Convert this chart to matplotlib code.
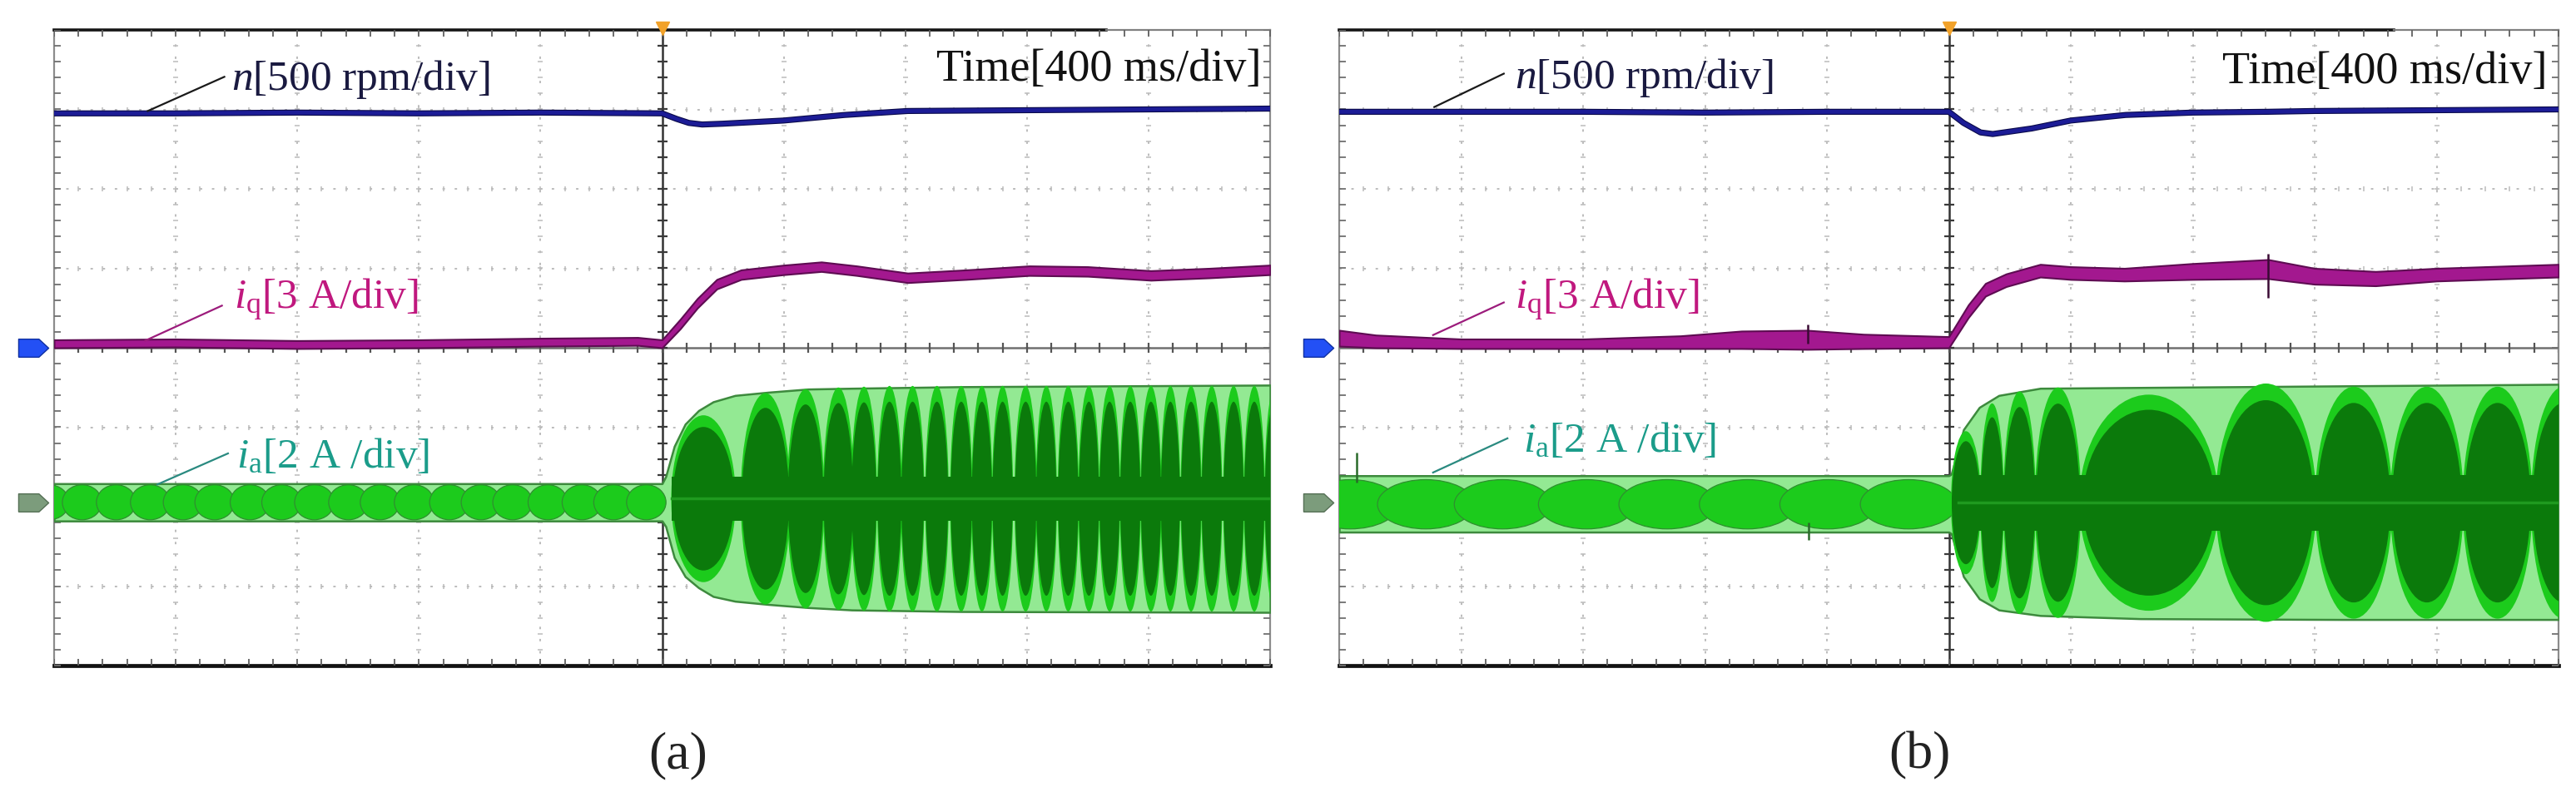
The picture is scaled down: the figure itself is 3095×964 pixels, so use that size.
import numpy as np
import matplotlib
matplotlib.use("Agg")
import matplotlib.pyplot as plt
import matplotlib.patheffects as pe
from matplotlib.patches import Ellipse
from matplotlib.path import Path

plt.rcParams['font.family'] = ['Liberation Serif', 'DejaVu Serif']
plt.rcParams['mathtext.fontset'] = 'custom'
plt.rcParams['mathtext.rm'] = 'Liberation Serif'
plt.rcParams['mathtext.it'] = 'Liberation Serif:italic'

# all values in scope divisions: x 0..10 (400 ms/div), y -4..4

# speed n
n_a_x = [0, 1, 2, 3, 4, 5.0, 5.12, 5.22, 5.33, 5.5, 6.0, 6.5, 7.02, 8.0, 9.0, 10.0]
n_a_y = [2.95, 2.95, 2.96, 2.95, 2.96, 2.95, 2.88, 2.83, 2.81, 2.82, 2.86, 2.93, 2.98, 2.99, 3.0, 3.01]
n_b_x = [0, 1, 2, 3, 4, 5.0, 5.12, 5.26, 5.36, 5.68, 6.0, 6.45, 7.0, 7.62, 8.0, 9.0, 10.0]
n_b_y = [2.97, 2.97, 2.97, 2.96, 2.97, 2.97, 2.83, 2.71, 2.69, 2.76, 2.86, 2.93, 2.96, 2.97, 2.98, 2.99, 3.0]

# q-axis current iq (centre and half thickness of the trace)
iq_a_x = [0, 1, 2, 3, 4, 4.8, 5.0, 5.15, 5.29, 5.45, 5.65, 6.0, 6.31, 6.6, 7.02, 7.5, 8.02, 8.5, 9.02, 9.5, 10]
iq_a_y = [0.05, 0.06, 0.04, 0.05, 0.07, 0.08, 0.05, 0.3, 0.56, 0.8, 0.92, 0.98, 1.02, 0.97, 0.88, 0.92, 0.97, 0.96, 0.91, 0.94, 0.98]
iq_a_hw = [0.05, 0.05, 0.05, 0.05, 0.05, 0.05, 0.05, 0.06, 0.06, 0.06, 0.06, 0.06, 0.06, 0.06, 0.06, 0.06, 0.06, 0.06, 0.06, 0.06, 0.06]
iq_b_x = [0, 0.3, 1, 2, 2.8, 3.3, 3.84, 4.3, 5.0, 5.16, 5.3, 5.47, 5.75, 6.0, 6.44, 7.0, 7.62, 8.0, 8.5, 9.0, 10]
iq_b_y = [0.12, 0.08, 0.05, 0.05, 0.07, 0.1, 0.1, 0.08, 0.07, 0.46, 0.73, 0.85, 0.97, 0.94, 0.92, 0.96, 0.99, 0.9, 0.87, 0.92, 0.97]
iq_b_hw = [0.1, 0.08, 0.06, 0.06, 0.08, 0.11, 0.12, 0.09, 0.07, 0.08, 0.08, 0.08, 0.08, 0.08, 0.08, 0.1, 0.12, 0.1, 0.09, 0.08, 0.08]
iq_b_spike_x = [3.84, 7.62]
iq_b_spike_lo = [0.05, 0.63]
iq_b_spike_hi = [0.29, 1.18]

# phase current ia: outer envelope
ia_a_env_x = [0, 5.0, 5.03, 5.1, 5.19, 5.3, 5.42, 5.6, 5.87, 6.2, 6.56, 7.47, 10.0]
ia_a_env_hi = [-1.71, -1.71, -1.62, -1.24, -0.96, -0.79, -0.68, -0.6, -0.56, -0.52, -0.51, -0.49, -0.47]
ia_a_env_lo = [-2.18, -2.18, -2.25, -2.64, -2.88, -3.02, -3.13, -3.19, -3.23, -3.27, -3.3, -3.32, -3.33]
ia_b_env_x = [0, 5.0, 5.02, 5.12, 5.25, 5.41, 5.75, 6.57, 8.23, 10.0]
ia_b_env_hi = [-1.61, -1.61, -1.59, -1.03, -0.75, -0.6, -0.51, -0.5, -0.48, -0.46]
ia_b_env_lo = [-2.32, -2.32, -2.34, -2.88, -3.16, -3.3, -3.37, -3.41, -3.42, -3.42]
ia_b_spike_x = [0.14, 3.85]
ia_b_spike_lo = [-1.7, -2.42]
ia_b_spike_hi = [-1.32, -2.2]

# ia beat lobes before the load step
ia_a_pre_c = [-0.04, 0.23, 0.51, 0.79, 1.06, 1.32, 1.61, 1.87, 2.14, 2.42, 2.68,
              2.96, 3.25, 3.51, 3.77, 4.06, 4.34, 4.6, 4.87]
ia_a_pre_w, ia_a_pre_h, ia_a_mid0 = 0.27, 0.22, -1.945
ia_b_pre_c = [0.09, 0.71, 1.34, 2.03, 2.69, 3.35, 4.01, 4.67]
ia_b_pre_w, ia_b_pre_h, ia_b_mid0 = 0.66, 0.31, -1.97

# ia beat lobes after the load step
ia_a_post_c = [5.34, 5.85, 6.18, 6.45, 6.66, 6.87, 7.06, 7.26, 7.46, 7.63, 7.80, 7.99,
               8.16, 8.34, 8.51, 8.68, 8.85, 9.02, 9.18, 9.35, 9.52, 9.70, 9.87, 10.04]
ia_a_post_w = [0.52, 0.40, 0.30, 0.25, 0.21, 0.20, 0.19, 0.19, 0.18, 0.17, 0.17, 0.18,
               0.17, 0.17, 0.17, 0.17, 0.17, 0.17, 0.16, 0.17, 0.17, 0.17, 0.17, 0.17]
ia_a_post_h = [1.05, 1.33, 1.38, 1.40, 1.41, 1.42, 1.42, 1.42, 1.42, 1.42, 1.42, 1.42,
               1.42, 1.42, 1.42, 1.42, 1.42, 1.42, 1.42, 1.42, 1.42, 1.42, 1.42, 1.42]
ia_a_mid1, ia_a_core = -1.9, 0.28
ia_b_post_c = [5.14, 5.355, 5.58, 5.895, 6.64, 7.6, 8.32, 8.92, 9.5, 10.04]
ia_b_post_w = [0.24, 0.19, 0.26, 0.37, 1.12, 0.81, 0.62, 0.59, 0.56, 0.52]
ia_b_post_h = [0.9, 1.25, 1.4, 1.45, 1.36, 1.5, 1.46, 1.46, 1.46, 1.46]
ia_b_mid1, ia_b_core = -1.95, 0.35

step_x = 5.0
ch_iq_y, ch_ia_y = 0.0, -1.95

N_COL, IQ_COL = '#1c1c96', '#a3188f'
LIGHT_G, BRIGHT_G, DARK_G, EDGE_G = '#93e993', '#1ccb1c', '#0b7a0b', '#3d8a3d'

tag = Path([(-1, -0.6), (0.35, -0.6), (1, 0), (0.35, 0.6), (-1, 0.6), (-1, -0.6)])


def scope_grid(ax):
    ax.set_xlim(0, 10)
    ax.set_ylim(-4, 4)
    ax.axis('off')
    gcol = '#bcbcbc'
    fx = np.arange(0, 10.001, 0.2)
    fy = np.arange(-4, 4.001, 0.2)
    for gx in [1, 2, 3, 4, 6, 7, 8, 9]:
        ax.plot([gx, gx], [-4, 4], color=gcol, lw=1.4, ls=(0, (1.5, 6)), zorder=1)
        ax.plot(np.full_like(fy, gx), fy, ls='none', marker='_', ms=4, mew=1.1, color=gcol, zorder=1)
    for gy in [-3, -2, -1, 1, 2, 3]:
        ax.plot([0, 10], [gy, gy], color=gcol, lw=1.4, ls=(0, (1.5, 6)), zorder=1)
        ax.plot(fx, np.full_like(fx, gy), ls='none', marker='|', ms=5, mew=1.1, color=gcol, zorder=1)
    ax.plot([5, 5], [-4, 4], color='#333333', lw=1.8, zorder=1.5)
    ax.plot([0, 10], [0, 0], color='#707070', lw=1.8, zorder=1.5)
    ax.plot(fx, np.zeros_like(fx), ls='none', marker='|', ms=9, mew=1.6, color='#555555', zorder=1.5)
    ax.plot(np.full_like(fy, 5), fy, ls='none', marker='_', ms=9, mew=1.6, color='#3a3a3a', zorder=1.5)
    # frame with its ticks
    ax.plot([0, 0], [-4, 4], color='#8c8c8c', lw=1.6, clip_on=False, zorder=1.5)
    ax.plot([10, 10], [-4, 4], color='#8c8c8c', lw=1.6, clip_on=False, zorder=1.5)
    ax.plot([0, 8.65], [4, 4], color='#151515', lw=2.6, clip_on=False, zorder=1.5)
    ax.plot([8.65, 10], [4, 4], color='#808080', lw=1.6, clip_on=False, zorder=1.5)
    ax.plot([0, 10], [-4, -4], color='#111111', lw=3.4, clip_on=False, zorder=1.5)
    ax.plot(fx, np.full_like(fx, 3.96), ls='none', marker='|', ms=6, mew=1.3, color='#606060', zorder=1.5)
    ax.plot(fx, np.full_like(fx, -3.96), ls='none', marker='|', ms=6, mew=1.3, color='#606060', zorder=1.5)
    ax.plot(np.full_like(fy, 0.03), fy, ls='none', marker='_', ms=6, mew=1.3, color='#707070', zorder=1.5)
    ax.plot(np.full_like(fy, 9.97), fy, ls='none', marker='_', ms=6, mew=1.3, color='#707070', zorder=1.5)
    # trigger and channel markers
    ax.plot([step_x], [4.02], marker='v', ms=11, color='#f2a22a', clip_on=False, zorder=6)
    ax.plot([-0.17], [ch_iq_y], marker=tag, ms=26, color='#2350f5', mec='#1030a0', clip_on=False, zorder=6)
    ax.plot([-0.17], [ch_ia_y], marker=tag, ms=26, color='#7c9c7c', mec='#567056', clip_on=False, zorder=6)


def lobes(ax, centers, widths, heights, mid, outer, inner, z, wk=1.0, edge=None):
    for c, w, h in zip(centers, widths, heights):
        ax.add_patch(Ellipse((c, mid), w * wk, 2 * h, facecolor=outer,
                             edgecolor=edge if edge else 'none', lw=0.9, zorder=z))
        if inner:
            ax.add_patch(Ellipse((c, mid), w * wk * 0.95, 2 * h * 0.86, facecolor=inner,
                                 edgecolor='none', zorder=z + 0.1))


def traces(ax, n_x, n_y, iq_x, iq_y, iq_hw, env_x, env_hi, env_lo,
           pre_c, pre_w, pre_h, mid0, post_c, post_w, post_h, mid1, core):
    # ia
    ax.fill_between(env_x, env_lo, env_hi, facecolor=LIGHT_G, edgecolor=EDGE_G, lw=1.8, zorder=2)
    lobes(ax, pre_c, [pre_w] * len(pre_c), [pre_h] * len(pre_c), mid0, BRIGHT_G, None, 2.2,
          wk=1.2, edge='#2f8f2f')
    lobes(ax, post_c, post_w, post_h, mid1, BRIGHT_G, DARK_G, 2.2, wk=1.02)
    ax.fill_between([step_x + 0.08, 10], [mid1 - core] * 2, [mid1 + core] * 2,
                    facecolor=DARK_G, edgecolor='none', zorder=2.5)
    ax.plot([step_x + 0.08, 10], [mid1, mid1], color='#1f9a1f', lw=2.5, zorder=2.6)
    # iq
    lo = np.array(iq_y) - np.array(iq_hw)
    hi = np.array(iq_y) + np.array(iq_hw)
    ax.fill_between(iq_x, lo, hi, facecolor=IQ_COL, edgecolor='#5e0c52', lw=1.5, zorder=3)
    # n
    ax.plot(n_x, n_y, color=N_COL, lw=3.6, zorder=3, solid_joinstyle='round',
            path_effects=[pe.Stroke(linewidth=5.2, foreground='#0a0a4a'), pe.Normal()])


def labels(ax, n_pos, n_lead, iq_pos, iq_lead, ia_pos, ia_lead, t_pos):
    fs = 37
    ax.text(*n_pos, r'$\mathit{n}$[500 rpm/div]', fontsize=fs, color='#1a1a40', ha='left', va='center', zorder=7)
    ax.plot(*n_lead, color='#1a1a1a', lw=1.6, zorder=7)
    ax.text(*iq_pos, r'$\mathit{i}_{\mathrm{q}}$[3 A/div]', fontsize=fs, color='#c0187e', ha='left', va='center', zorder=7)
    ax.plot(*iq_lead, color='#9c1c7c', lw=1.6, zorder=7)
    ax.text(*ia_pos, r'$\mathit{i}_{\mathrm{a}}$[2 A /div]', fontsize=fs, color='#1b9c8a', ha='left', va='center', zorder=7)
    ax.plot(*ia_lead, color='#2a8a80', lw=1.6, zorder=7)
    ax.text(*t_pos, 'Time[400 ms/div]', fontsize=39, color='#111111', ha='right', va='center', zorder=7)


fig = plt.figure(figsize=(30.95, 9.64), dpi=100)
ax_a = fig.add_axes([65 / 3095, 1 - 800 / 964, 1461 / 3095, 764 / 964])
ax_b = fig.add_axes([1609 / 3095, 1 - 800 / 964, 1465 / 3095, 764 / 964])

for ax in (ax_a, ax_b):
    scope_grid(ax)

traces(ax_a, n_a_x, n_a_y, iq_a_x, iq_a_y, iq_a_hw, ia_a_env_x, ia_a_env_hi, ia_a_env_lo,
       ia_a_pre_c, ia_a_pre_w, ia_a_pre_h, ia_a_mid0,
       ia_a_post_c, ia_a_post_w, ia_a_post_h, ia_a_mid1, ia_a_core)
traces(ax_b, n_b_x, n_b_y, iq_b_x, iq_b_y, iq_b_hw, ia_b_env_x, ia_b_env_hi, ia_b_env_lo,
       ia_b_pre_c, ia_b_pre_w, ia_b_pre_h, ia_b_mid0,
       ia_b_post_c, ia_b_post_w, ia_b_post_h, ia_b_mid1, ia_b_core)

# glitches in (b)
ax_b.vlines(iq_b_spike_x, iq_b_spike_lo, iq_b_spike_hi, color='#3a0a34', lw=1.8, zorder=3.5)
ax_b.vlines(ia_b_spike_x, ia_b_spike_lo, ia_b_spike_hi, color='#2a6a2a', lw=1.8, zorder=2.8)

labels(ax_a, (1.46, 3.38), ([0.77, 1.40], [2.98, 3.41]),
       (1.48, 0.6), ([0.75, 1.38], [0.09, 0.53]),
       (1.50, -1.38), ([0.85, 1.43], [-1.72, -1.33]),
       (9.93, 3.5))
labels(ax_b, (1.44, 3.4), ([0.78, 1.35], [3.03, 3.45]),
       (1.44, 0.6), ([0.77, 1.35], [0.16, 0.57]),
       (1.51, -1.18), ([0.77, 1.38], [-1.57, -1.14]),
       (9.91, 3.47))

fig.text(815 / 3095, 1 - 908 / 964, '(a)', fontsize=46, ha='center', va='center', color='#222222')
fig.text(2306 / 3095, 1 - 908 / 964, '(b)', fontsize=46, ha='center', va='center', color='#222222')

fig.savefig('out.png', dpi=100, facecolor='white')
